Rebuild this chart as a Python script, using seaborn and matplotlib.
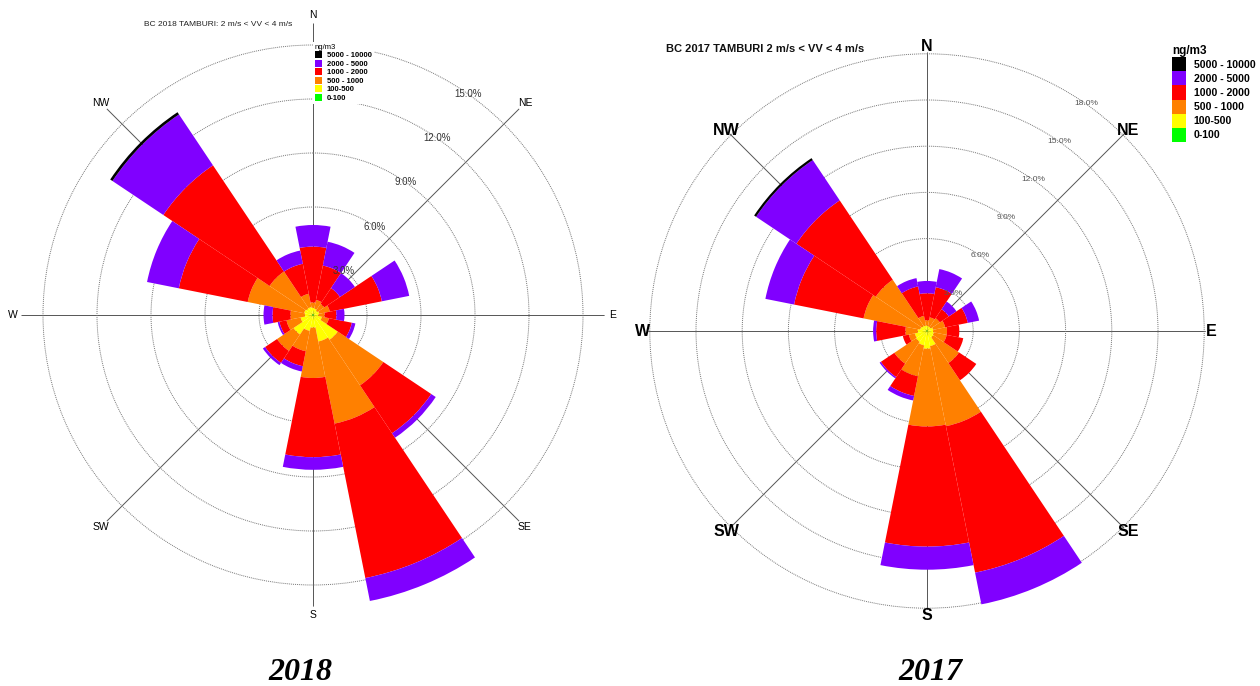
import numpy as np
import matplotlib.pyplot as plt
import seaborn as sns
from matplotlib.patches import Patch

# wind sectors, clockwise from north
directions = ['N', 'NNE', 'NE', 'ENE', 'E', 'ESE', 'SE', 'SSE',
              'S', 'SSW', 'SW', 'WSW', 'W', 'WNW', 'NW', 'NNW']
classes = ['0-100', '100-500', '500 - 1000', '1000 - 2000', '2000 - 5000', '5000 - 10000']
class_colors = ['#00ff00', '#ffff00', '#ff8000', '#ff0000', '#8000ff', '#000000']

# 2018, frequency (%) of each BC class per direction
bc18_0_100 = [0.05] * 16
bc18_100_500 = [0.35, 0.30, 0.25, 0.30, 0.25, 0.45, 1.60, 1.45, 0.65, 0.85, 1.25, 0.65, 0.40, 0.45, 0.40, 0.40]
bc18_500_1000 = [0.30, 0.50, 0.45, 0.60, 0.35, 0.40, 3.05, 4.65, 2.80, 1.15, 1.10, 0.80, 0.80, 3.20, 2.45, 0.75]
bc18_1000_2000 = [3.10, 1.95, 1.05, 2.95, 0.65, 1.30, 3.20, 8.75, 4.40, 0.85, 0.80, 0.40, 1.00, 3.90, 7.10, 1.70]
bc18_2000_5000 = [1.20, 1.35, 1.00, 1.55, 0.45, 0.20, 0.30, 1.45, 0.70, 0.30, 0.15, 0.10, 0.50, 1.80, 3.40, 0.75]
bc18_5000_10000 = [0, 0, 0, 0, 0, 0, 0, 0.15, 0, 0, 0, 0, 0, 0, 0.15, 0]

# 2017
bc17_0_100 = [0.05] * 16
bc17_100_500 = [0.30, 0.25, 0.25, 0.35, 0.35, 0.40, 0.45, 0.95, 1.10, 0.90, 0.80, 0.75, 0.55, 0.40, 0.35, 0.30]
bc17_500_1000 = [0.35, 0.60, 0.70, 0.80, 0.90, 0.85, 2.00, 5.30, 5.05, 2.05, 1.70, 0.40, 0.80, 3.75, 3.60, 0.65]
bc17_1000_2000 = [1.75, 2.00, 0.70, 1.50, 0.80, 1.10, 1.35, 9.70, 7.80, 1.30, 1.05, 0.40, 1.90, 4.60, 6.20, 1.95]
bc17_2000_5000 = [0.80, 1.20, 0.60, 0.75, 0, 0, 0, 2.20, 1.50, 0.30, 0.10, 0, 0.20, 1.90, 3.15, 0.55]
bc17_5000_10000 = [0, 0, 0, 0, 0, 0, 0, 0.10, 0, 0, 0, 0, 0, 0, 0.15, 0]

rose_2018 = [bc18_0_100, bc18_100_500, bc18_500_1000, bc18_1000_2000, bc18_2000_5000, bc18_5000_10000]
rose_2017 = [bc17_0_100, bc17_100_500, bc17_500_1000, bc17_1000_2000, bc17_2000_5000, bc17_5000_10000]

sns.set_theme(style='white')
plt.rcParams['font.family'] = ['Liberation Sans', 'DejaVu Sans']
plt.rcParams['text.color'] = 'black'
palette = sns.color_palette(class_colors)

W, H = 1260, 686
fig = plt.figure(figsize=(12.6, 6.86), dpi=100)


def draw_rose(center, px_per_pct, rmax, rings, freqs, lab_r, lab_size, lab_weight,
              ring_size, ring_color):
    cx, cy = center
    rad = rmax * px_per_pct
    ax = fig.add_axes([(cx - rad) / W, (H - cy - rad) / H, 2 * rad / W, 2 * rad / H],
                      projection='polar')
    ax.set_theta_zero_location('N')
    ax.set_theta_direction(-1)
    ax.set_facecolor('none')
    ax.set_axisbelow(True)

    theta = np.deg2rad(np.arange(len(directions)) * 22.5)
    bottom = np.zeros(len(directions))
    for vals, col in zip(freqs, palette):
        ax.bar(theta, vals, width=np.deg2rad(22.5), bottom=bottom, color=col,
               edgecolor='none', linewidth=0, align='center')
        bottom = bottom + np.array(vals)

    ax.set_ylim(0, rmax)
    ax.set_yticks(rings)
    ax.set_yticklabels([])
    ax.set_xticks(np.deg2rad(np.arange(0, 360, 45)))
    ax.set_xticklabels([])
    ax.xaxis.grid(True, color='#555555', linewidth=0.7, linestyle='-')
    ax.yaxis.grid(True, color='#777777', linewidth=0.7, linestyle=(0, (1, 1)))
    ax.spines['polar'].set_visible(False)

    for r in rings:
        ax.text(np.deg2rad(35), r, f'{r:.1f}%', ha='center', va='center',
                fontsize=ring_size, color=ring_color, zorder=5)
    for name in ['N', 'NE', 'E', 'SE', 'S', 'SW', 'W', 'NW']:
        ang = np.deg2rad(directions.index(name) * 22.5)
        ax.text(ang, lab_r, name, ha='center', va='center', fontsize=lab_size,
                fontweight=lab_weight, color='black', clip_on=False)
    return ax


ax18 = draw_rose((313, 315), 18.0, 16.2, [3, 6, 9, 12, 15], rose_2018,
                 16.65, 7.5, 'normal', 7, '#333333')
ax17 = draw_rose((927, 331), 15.4, 18.1, [3, 6, 9, 12, 15, 18], rose_2017,
                 18.45, 11.5, 'bold', 6, '#555555')

handles = [Patch(facecolor=c, edgecolor='none') for c in palette][::-1]
labels = classes[::-1]

leg18 = fig.legend(handles, labels, title='ng/m3', loc='upper left',
                   bbox_to_anchor=(309 / W, 1 - 38 / H), bbox_transform=fig.transFigure,
                   fontsize=5.5, title_fontsize=5.5, frameon=True, facecolor='white',
                   edgecolor='none', framealpha=1, handlelength=1.0, handleheight=1.05,
                   labelspacing=0.05, borderpad=0.25, handletextpad=0.6, alignment='left',
                   fancybox=False)
for t in leg18.get_texts():
    t.set_fontweight('bold')

leg17 = fig.legend(handles, labels, title='ng/m3', loc='upper left',
                   bbox_to_anchor=(1165 / W, 1 - 38 / H), bbox_transform=fig.transFigure,
                   fontsize=7.6, title_fontsize=8.5, frameon=False, handlelength=1.3,
                   handleheight=1.67, labelspacing=0.0, borderpad=0.2, handletextpad=0.7,
                   alignment='left')
leg17.get_title().set_fontweight('bold')
for t in leg17.get_texts():
    t.set_fontweight('bold')

fig.text(218 / W, 1 - 24 / H, 'BC 2018 TAMBURI: 2 m/s < VV < 4 m/s',
         ha='center', va='center', fontsize=6, color='#222222')
fig.text(666 / W, 1 - 49 / H, 'BC 2017 TAMBURI 2 m/s < VV < 4 m/s',
         ha='left', va='center', fontsize=8, fontweight='bold', color='#111111')

for x, year in [(300, '2018'), (930, '2017')]:
    fig.text(x / W, 1 - 672 / H, year, ha='center', va='center', fontsize=23,
             fontweight='bold', fontstyle='italic', color='black',
             family=['Liberation Serif', 'DejaVu Serif'])

fig.savefig('out.png', dpi=100, facecolor='white')
